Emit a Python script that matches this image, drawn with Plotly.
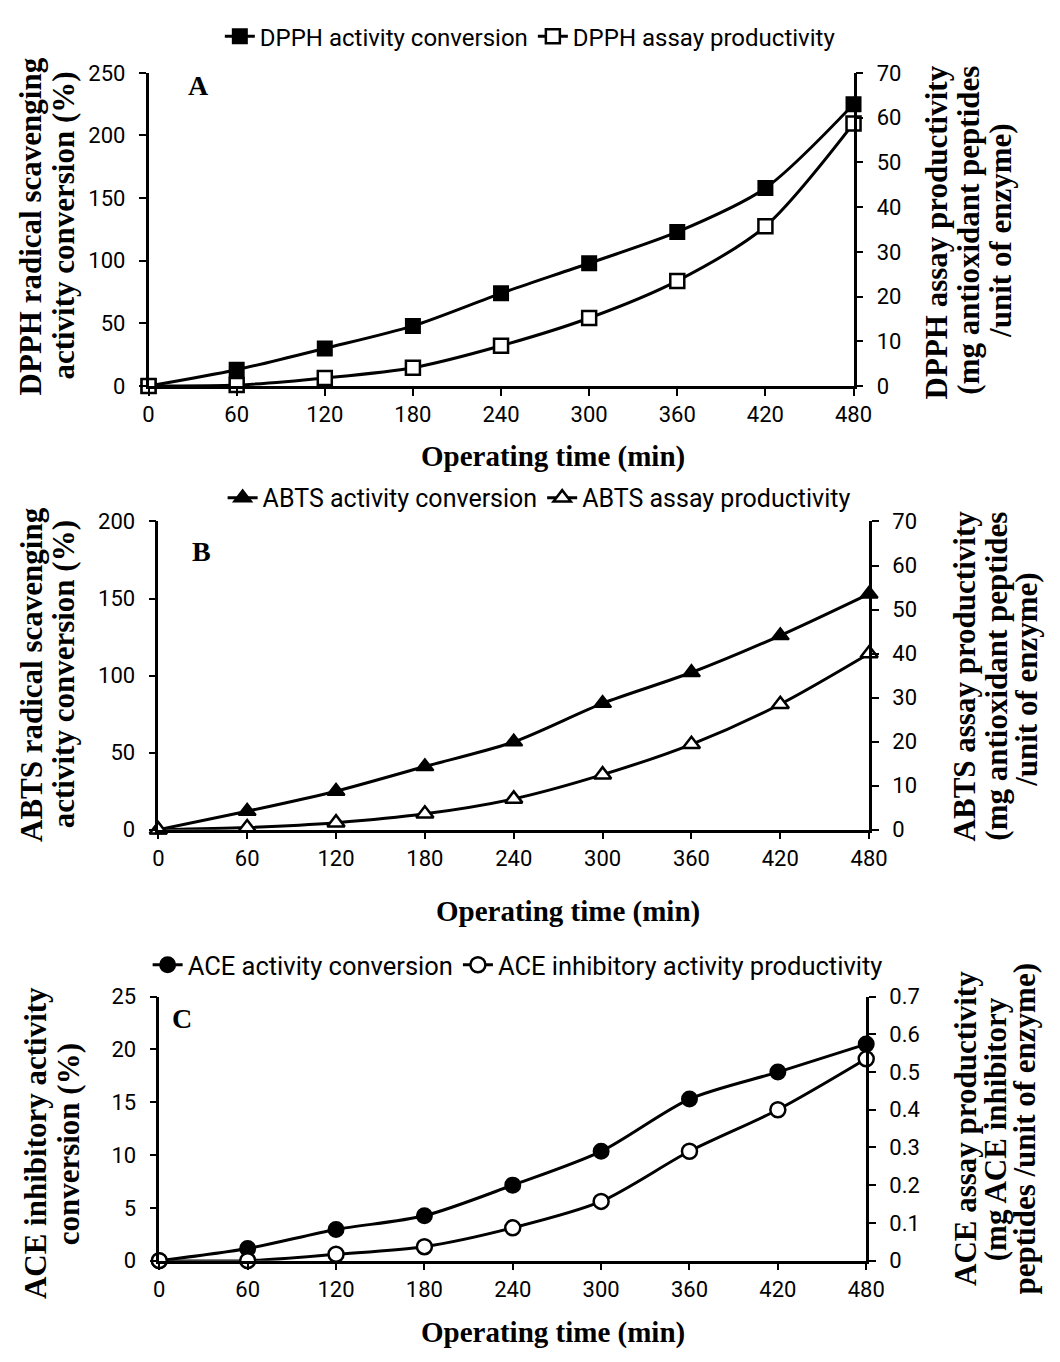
import plotly.graph_objects as go

# Operating time points (min)
time_min = [0, 60, 120, 180, 240, 300, 360, 420, 480]
x_ticks = [0, 60, 120, 180, 240, 300, 360, 420, 480]

# A: DPPH
dpph_conversion = [0, 13, 30, 48, 74, 98, 123, 158, 225]
dpph_productivity = [0, 0.2, 1.8, 4.1, 9.0, 15.2, 23.5, 35.7, 58.7]

# B: ABTS
abts_conversion = [0, 12, 25, 41, 57, 82, 102, 126, 153]
abts_productivity = [0, 0.5, 1.6, 3.6, 7.0, 12.5, 19.4, 28.5, 40.0]

# C: ACE inhibition
ace_conversion = [0, 1.15, 2.95, 4.25, 7.15, 10.35, 15.3, 17.85, 20.5]
ace_productivity = [0, 0.0, 0.017, 0.037, 0.087, 0.157, 0.29, 0.40, 0.535]

W, H = 1060, 1362
TICK_FONT = dict(family="Roboto, Lato, sans-serif", size=22, color="black")
SERIF = "Liberation Serif, Times New Roman, serif"


def fx(p):
    return p / W


def fy(p):
    return 1 - p / H


# pixel boxes of each plot area: left, right, top, bottom
panels = [
    dict(box=(146, 868, 62, 381), yl=(0, 250, 50), yr=(0, 70, 10),
         conv=dpph_conversion, prod=dpph_productivity,
         names=("DPPH activity conversion", "DPPH assay productivity"),
         symbols=("square", "square"), msize=14,
         legend_xy=(537, 25), legend_size=24,
         letter=("A", 197, 75), xtitle=(560, 453),
         ltitle=[("DPPH radical scavenging", 26, 218), ("activity conversion (%)", 59, 218)],
         rtitle=[("DPPH assay productivity", 953, 225), ("(mg antioxidant peptides", 986, 222),
                 ("/unit of enzyme)", 1019, 222)]),
    dict(box=(156, 884, 519, 833), yl=(0, 200, 50), yr=(0, 70, 10),
         conv=abts_conversion, prod=abts_productivity,
         names=("ABTS activity conversion", "ABTS assay productivity"),
         symbols=("triangle-up", "triangle-up"), msize=15,
         legend_xy=(546, 495), legend_size=25,
         letter=("B", 200, 550), xtitle=(576, 916),
         ltitle=[("ABTS radical scavenging", 26, 675), ("activity conversion (%)", 59, 675)],
         rtitle=[("ABTS assay productivity", 982, 676), ("(mg antioxidant peptides", 1014, 677),
                 ("/unit of enzyme)", 1045, 680)]),
    dict(box=(157, 881, 1003, 1272), yl=(0, 25, 5), yr=(0, 0.7, 0.1),
         conv=ace_conversion, prod=ace_productivity,
         names=("ACE activity conversion", "ACE inhibitory activity productivity"),
         symbols=("circle", "circle"), msize=15,
         legend_xy=(524, 971), legend_size=25.5,
         letter=("C", 180, 1025), xtitle=(560, 1345),
         ltitle=[("ACE inhibitory activity", 31, 1152), ("conversion (%)", 64, 1153)],
         rtitle=[("ACE assay productivity", 982, 1137), ("(mg ACE inhibitory", 1013, 1138),
                 ("peptides /unit of enzyme)", 1043, 1137)]),
]

fig = go.Figure()
layout = dict(width=W, height=H, margin=dict(l=0, r=0, t=0, b=0),
              paper_bgcolor="white", plot_bgcolor="white", showlegend=True)
annotations = []

for i, p in enumerate(panels):
    n = i + 1
    xname = "x" if n == 1 else f"x{n}"
    yl_name = f"y{2 * n - 1}" if n > 1 else "y"
    yr_name = f"y{2 * n}"
    leg = "legend" if n == 1 else f"legend{n}"
    l, r, t, b = p["box"]

    line = dict(color="black", width=3, shape="spline", smoothing=0.8)
    fig.add_trace(go.Scatter(
        x=time_min, y=p["conv"], name=p["names"][0], mode="lines+markers",
        line=line, cliponaxis=False,
        marker=dict(symbol=p["symbols"][0], size=p["msize"], color="black",
                    line=dict(color="black", width=2)),
        xaxis=xname, yaxis=yl_name, legend=leg))
    fig.add_trace(go.Scatter(
        x=time_min, y=p["prod"], name=p["names"][1], mode="lines+markers",
        line=line, cliponaxis=False,
        marker=dict(symbol=p["symbols"][1], size=p["msize"], color="white",
                    line=dict(color="black", width=2.5)),
        xaxis=xname, yaxis=yr_name, legend=leg))

    axis_common = dict(showgrid=False, zeroline=False, showline=True,
                       linecolor="black", linewidth=2.5, ticks="outside",
                       ticklen=7, tickwidth=2, tickcolor="black",
                       tickfont=TICK_FONT)
    xkey = "xaxis" if n == 1 else f"xaxis{n}"
    ylkey = "yaxis" if n == 1 else f"yaxis{2 * n - 1}"
    yrkey = f"yaxis{2 * n}"
    layout[xkey] = dict(axis_common, domain=[fx(l), fx(r)], range=[0, 480],
                        tickvals=x_ticks, anchor=yl_name)
    y0, y1, dy = p["yl"]
    layout[ylkey] = dict(axis_common, domain=[fy(b), fy(t)], range=[y0, y1],
                         dtick=dy, tick0=0, anchor=xname, ticklabelstandoff=9)
    r0, r1, dr = p["yr"]
    layout[yrkey] = dict(axis_common, range=[r0, r1], dtick=dr, tick0=0,
                         overlaying=yl_name, side="right", anchor=xname,
                         ticklabelstandoff=9)

    lx, ly = p["legend_xy"]
    layout[leg] = dict(orientation="h", x=fx(lx), xanchor="center", y=fy(ly),
                       yanchor="middle",
                       font=dict(family="Roboto, Lato, sans-serif",
                                 size=p["legend_size"], color="black"),
                       bgcolor="rgba(0,0,0,0)", itemwidth=30, traceorder="normal")

    letter, ax_, ay_ = p["letter"]
    annotations.append(dict(text=f"<b>{letter}</b>", x=fx(ax_), y=fy(ay_),
                            xref="paper", yref="paper", showarrow=False,
                            xanchor="center", yanchor="middle",
                            font=dict(family=SERIF, size=28, color="black")))
    tx, ty = p["xtitle"]
    annotations.append(dict(text="<b>Operating time (min)</b>", x=fx(tx), y=fy(ty),
                            xref="paper", yref="paper", showarrow=False,
                            xanchor="center", yanchor="middle",
                            font=dict(family=SERIF, size=29, color="black")))
    for txt, px_, py_ in p["ltitle"] + p["rtitle"]:
        annotations.append(dict(text=f"<b>{txt}</b>", x=fx(px_), y=fy(py_),
                                xref="paper", yref="paper", showarrow=False,
                                xanchor="center", yanchor="middle", textangle=-90,
                                font=dict(family=SERIF, size=31, color="black")))

layout["annotations"] = annotations
fig.update_layout(**layout)
fig.write_html("out.html")
